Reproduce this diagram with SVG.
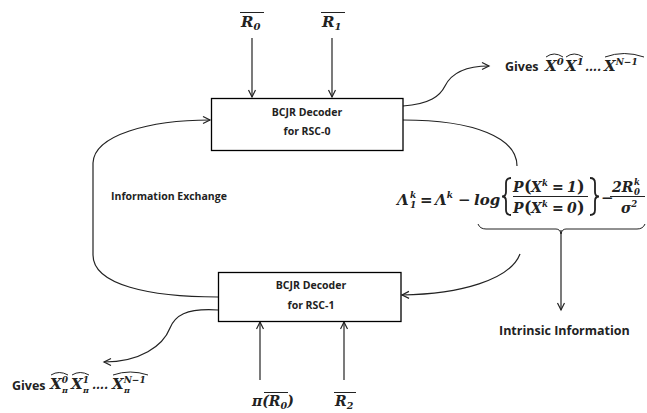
<svg xmlns="http://www.w3.org/2000/svg" width="647" height="413" viewBox="0 0 647 413">
<style>
.box{fill:#fff;stroke:#000;stroke-width:1.3}
.lbl{font-family:"Open Sans","Liberation Sans",sans-serif;font-weight:bold;fill:#222}
.m{font-family:"DejaVu Serif","Liberation Serif",serif;font-weight:bold;font-style:italic;fill:#222}
.ln{fill:none;stroke:#222;stroke-width:1.2}
.deco{fill:none;stroke:#222;stroke-width:1}
.br{fill:none;stroke:#222;stroke-width:1.8}
</style>
<defs>
<marker id="ah" markerWidth="10" markerHeight="10" refX="8" refY="4" orient="auto" markerUnits="userSpaceOnUse">
<path d="M1,0.5 L8,4 L1,7.5" fill="none" stroke="#222" stroke-width="1.2"/>
</marker>
</defs>
<rect width="647" height="413" fill="#fff"/>

<g id="connectors">
<path class="ln" d="M252,38 L252,97" marker-end="url(#ah)"/>
<path class="ln" d="M332,38 L332,97" marker-end="url(#ah)"/>
<path class="ln" d="M260,380 L260,322" marker-end="url(#ah)"/>
<path class="ln" d="M344,380 L344,322" marker-end="url(#ah)"/>
<path class="ln" d="M403,106 C430,104 440,96 445,86 C452,72 468,66 489,66" marker-end="url(#ah)"/>
<path class="ln" d="M403,120 C475,120 517,138 517,166"/>
<path class="ln" d="M520,254 C510,280 460,294 402,295" marker-end="url(#ah)"/>
<path class="ln" d="M561,230 L561,310" marker-end="url(#ah)"/>
<path class="ln" d="M218,297 C150,297 93,285 93,255 L93,163 C94,135 150,120 210,120" marker-end="url(#ah)"/>
<path class="ln" d="M218,310 C185,308 175,316 170,328 C163,346 140,362 104,362" marker-end="url(#ah)"/>
</g>

<g id="decoder0">
<rect class="box" x="211.5" y="98.5" width="191.5" height="52"/>
<text class="lbl" x="307" y="116" font-size="10.5" text-anchor="middle">BCJR Decoder</text>
<text class="lbl" x="307" y="135" font-size="10.5" text-anchor="middle">for RSC-0</text>
</g>

<g id="decoder1">
<rect class="box" x="218.5" y="272.5" width="182.5" height="49"/>
<text class="lbl" x="311" y="289" font-size="10.5" text-anchor="middle">BCJR Decoder</text>
<text class="lbl" x="311" y="309" font-size="10.5" text-anchor="middle">for RSC-1</text>
</g>

<g id="input-r0">
<text class="m" x="241" y="27" font-size="15">R<tspan font-size="10" dy="3">0</tspan></text>
<path class="deco" d="M240,12.5 H264"/>
</g>
<g id="input-r1">
<text class="m" x="322" y="27" font-size="15">R<tspan font-size="10" dy="3">1</tspan></text>
<path class="deco" d="M321,12.5 H345"/>
</g>
<g id="input-pi-r0">
<text class="m" x="252" y="406" font-size="14">π(R<tspan font-size="9.5" dy="3">0</tspan><tspan dy="-3">)</tspan></text>
<path class="deco" d="M264,392.5 H288"/>
</g>
<g id="input-r2">
<text class="m" x="335" y="406" font-size="14">R<tspan font-size="9.5" dy="3">2</tspan></text>
<path class="deco" d="M334,392.5 H356"/>
</g>

<g id="info-exchange">
<text class="lbl" x="111" y="200" font-size="10.5">Information Exchange</text>
</g>

<g id="intrinsic">
<text class="lbl" x="499" y="335" font-size="12.5">Intrinsic Information</text>
</g>

<g id="gives-top">
<text class="lbl" x="505" y="71" font-size="12.5">Gives</text>
<text class="m" font-size="15" y="71"><tspan x="545">X</tspan><tspan font-size="10" dy="-6">0</tspan><tspan x="565" dy="6">X</tspan><tspan font-size="10" dy="-6">1</tspan><tspan x="585" dy="6" font-size="12">….</tspan><tspan x="604">X</tspan><tspan font-size="9" dy="-6">N−1</tspan></text>
<path class="deco" d="M546,57 Q554,51 563,57 M566,57 Q574,51 583,57 M605,57 Q624,50 644,57"/>
</g>

<g id="gives-bottom">
<text class="lbl" x="12" y="390" font-size="12.5">Gives</text>
<text class="m" font-size="15" y="389"><tspan x="50">X</tspan><tspan font-size="9" dy="-6">0</tspan><tspan x="62" dy="10" font-size="8">π</tspan><tspan x="71" dy="-4">X</tspan><tspan font-size="9" dy="-6">1</tspan><tspan x="83" dy="10" font-size="8">π</tspan><tspan x="92" dy="-4" font-size="12">….</tspan><tspan x="112">X</tspan><tspan font-size="9" dy="-6">N−1</tspan><tspan x="124" dy="10" font-size="8">π</tspan></text>
<path class="deco" d="M51,375 Q59,370 68,375 M72,375 Q80,370 89,375 M113,375 Q130,369 148,375"/>
</g>

<g id="equation">
<text class="m" font-size="15" y="205">
<tspan x="397">Λ</tspan><tspan font-size="9" x="410" dy="-7">k</tspan><tspan x="410" dy="10" font-size="9">1</tspan><tspan x="420" dy="-3" font-style="normal">=</tspan><tspan x="435">Λ</tspan><tspan font-size="9" dy="-7">k</tspan><tspan x="458" dy="7" font-style="normal">−</tspan><tspan x="474">log</tspan>
</text>
<path class="br" d="M511,178 Q506,178 506,183 V192 Q506,196.5 502,196.5 Q506,196.5 506,201 V210 Q506,215 511,215"/>
<text class="m" font-size="14" y="192"><tspan x="513">P</tspan><tspan x="524" font-style="normal" font-size="16">(</tspan><tspan x="531">X</tspan><tspan font-size="8.5" dy="-6">k</tspan><tspan x="552" dy="6" font-style="normal">=</tspan><tspan x="567">1</tspan><tspan x="577" font-style="normal" font-size="16">)</tspan></text>
<text class="m" font-size="14" y="213"><tspan x="513">P</tspan><tspan x="524" font-style="normal" font-size="16">(</tspan><tspan x="531">X</tspan><tspan font-size="8.5" dy="-6">k</tspan><tspan x="552" dy="6" font-style="normal">=</tspan><tspan x="567">0</tspan><tspan x="577" font-style="normal" font-size="16">)</tspan></text>
<path class="deco" d="M513,196.5 H588"/>
<path class="br" d="M590,178 Q595,178 595,183 V192 Q595,196.5 599,196.5 Q595,196.5 595,201 V210 Q595,215 590,215"/>
<text class="m" font-size="15" x="601" y="203" font-style="normal">−</text>
<text class="m" font-size="14" y="192"><tspan x="612">2R</tspan><tspan font-size="8.5" x="634" dy="3">0</tspan><tspan font-size="8.5" x="634" dy="-10">k</tspan></text>
<path class="deco" d="M610,196.5 H645"/>
<text class="m" font-size="14" y="213"><tspan x="621">σ</tspan><tspan font-size="8.5" dy="-6">2</tspan></text>
<path class="deco" d="M478,224 Q480,229 486,229 H556 Q560,229 561,234 Q562,229 566,229 H637 Q643,229 645,224"/>
</g>
</svg>
